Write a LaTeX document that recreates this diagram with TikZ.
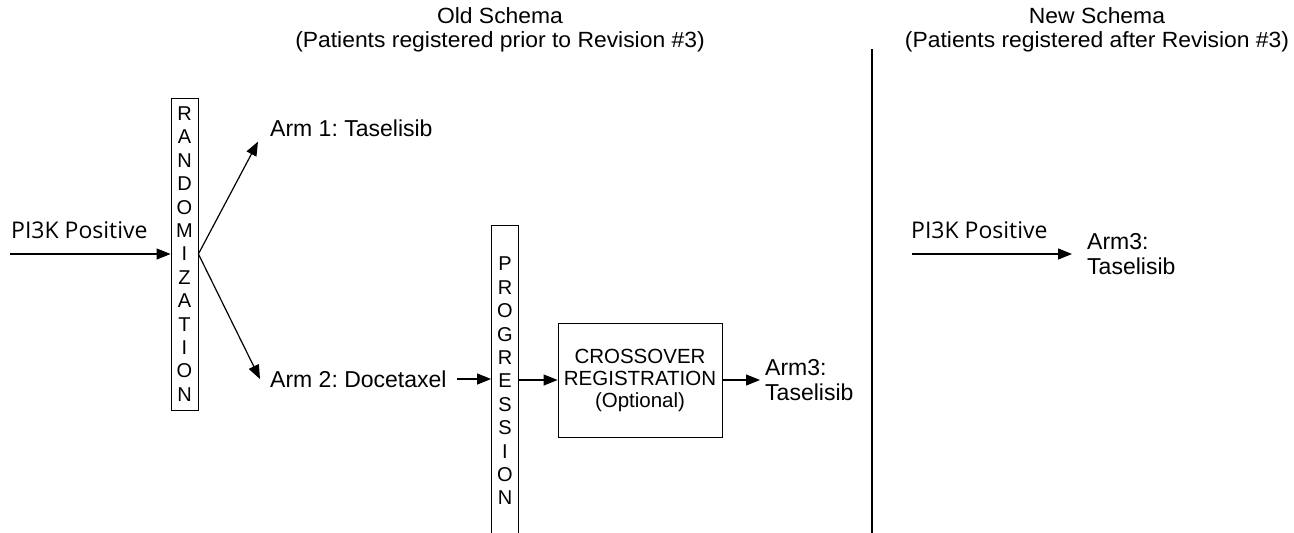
\documentclass[tikz,border=0pt]{standalone}
\usepackage{fontspec}
\setmainfont{Liberation Sans}
\newfontfamily\labelfont{Open Sans}
\newfontfamily\headfont{Liberation Sans}[FakeStretch=1.04]
\usetikzlibrary{arrows.meta,positioning}
\frenchspacing

\begin{document}
\begin{tikzpicture}[
  x=1pt, y=-1pt,
  font=\fontsize{23}{25}\selectfont,
  every node/.style={inner sep=0pt},
  heading/.style={align=center, font=\headfont\fontsize{22}{24}\selectfont},
  stack/.style={draw, line width=0.8pt, minimum width=27pt, align=center,
    font=\fontsize{20}{23.4}\selectfont},
  block/.style={draw, line width=0.8pt, minimum width=164pt, minimum height=114pt,
    align=center, font=\fontsize{20.5}{22}\selectfont},
  armlabel/.style={anchor=west, align=left},
  poslabel/.style={anchor=west, font=\labelfont\fontsize{23}{25}\selectfont},
  arr/.style={-{Triangle[length=14pt,width=11pt]}, line width=1.2pt}
]
\clip (0,0) rectangle (1294,533);

% headings
\node[heading] (oldhead) at (500,30)
  {Old Schema\\(Patients registered prior to Revision \#3)};
\node[heading] (newhead) at (1097,30)
  {New Schema\\(Patients registered after Revision \#3)};
\coordinate (divtop) at (872,49);
\coordinate (divbot) at (872,540);
\draw[line width=1.2pt] (divtop) -- (divbot);

% old schema
\node[stack, minimum height=312pt] (rand) at (184.5,254)
  {R\\A\\N\\D\\O\\M\\I\\Z\\A\\T\\I\\O\\N};
\node[poslabel] (pos1) at (11,230) {PI3K Positive};
\coordinate (in1) at (10,254);
\draw[arr] (in1) -- (rand);

\node[armlabel, inner xsep=12pt, inner ysep=5pt] (arm1) at (258,128) {Arm 1: Taselisib};
\node[armlabel, inner xsep=10pt] (arm2) at (260,379) {Arm 2: Docetaxel};
\draw[arr] (rand.east) -- (arm1.south west);
\draw[arr] (rand.east) -- (arm2.west);

\node[stack, minimum height=312pt] (prog) at (505,381)
  {P\\R\\O\\G\\R\\E\\S\\S\\I\\O\\N};
\node[block] (cross) at (640,380) {CROSSOVER\\REGISTRATION\\(Optional)};
\node[armlabel, inner xsep=5pt] (arm3) at (760,380) {Arm3:\\Taselisib};
\draw[arr] (arm2.east) -- (arm2.east -| prog.west);
\draw[arr] (prog.east |- cross.west) -- (cross.west);
\draw[arr] (cross.east) -- (arm3.west);

% new schema
\node[poslabel] (pos2) at (911,230) {PI3K Positive};
\coordinate (in2) at (912,254);
\node[armlabel, inner xsep=15pt] (arm3new) at (1072,254) {Arm3:\\Taselisib};
\draw[arr] (in2) -- (arm3new.west);
\end{tikzpicture}
\end{document}
